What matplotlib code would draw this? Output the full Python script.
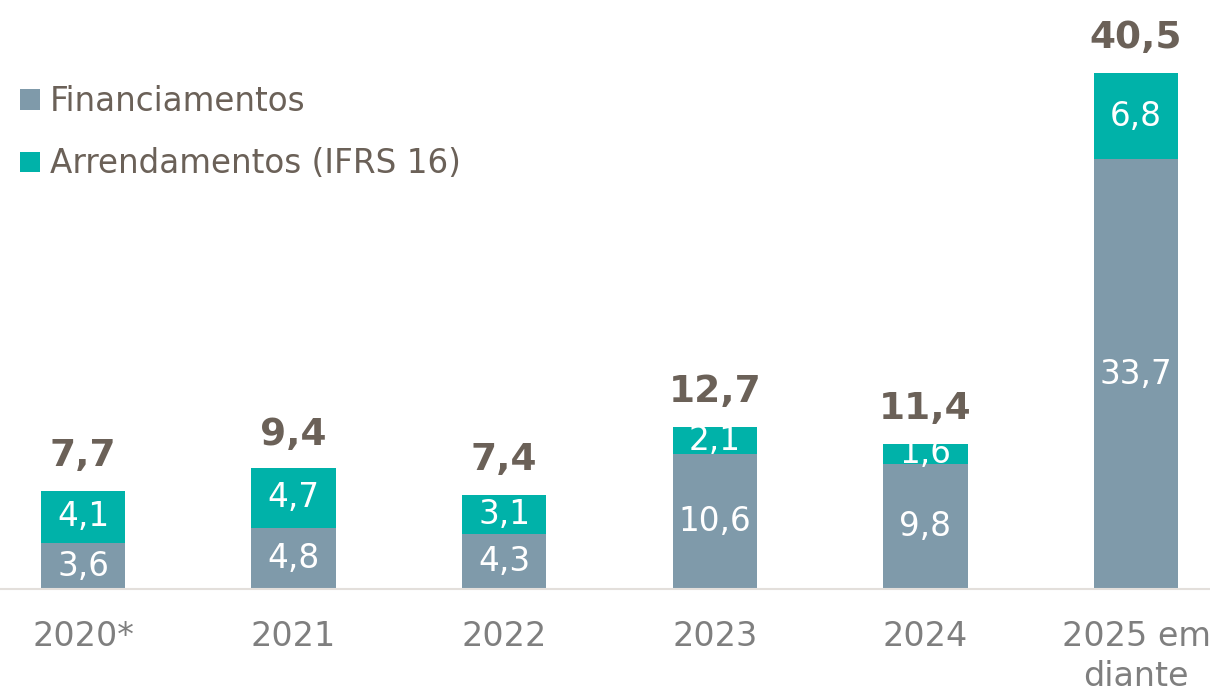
import matplotlib.pyplot as plt
import numpy as np

years = ['2020*', '2021', '2022', '2023', '2024', '2025 em\ndiante']
financiamentos = [3.6, 4.8, 4.3, 10.6, 9.8, 33.7]
arrendamentos = [4.1, 4.7, 3.1, 2.1, 1.6, 6.8]
totais = [7.7, 9.4, 7.4, 12.7, 11.4, 40.5]

c_fin = '#7F9AAA'
c_arr = '#00B2A9'
c_txt = '#6B6158'
c_tick = '#7F7F7F'


def fmt(v):
    return f'{v:.1f}'.replace('.', ',')


plt.rcParams['font.family'] = ['DejaVu Sans']

fig = plt.figure(figsize=(12.1, 6.92), dpi=100)
ax = fig.add_axes([0, 0.1488, 1, 0.8512])

x = np.arange(len(years))
w = 0.4
ax.bar(x, financiamentos, w, color=c_fin, label='Financiamentos')
ax.bar(x, arrendamentos, w, bottom=financiamentos, color=c_arr,
       label='Arrendamentos (IFRS 16)')

for i in range(len(years)):
    ax.text(x[i], financiamentos[i] / 2, fmt(financiamentos[i]), ha='center', va='center',
            color='white', fontsize=23.5)
    ax.text(x[i], financiamentos[i] + arrendamentos[i] / 2, fmt(arrendamentos[i]),
            ha='center', va='center', color='white', fontsize=23.5)
    ax.annotate(fmt(totais[i]), (x[i], totais[i]), xytext=(0, 12), textcoords='offset points',
                ha='center', va='bottom', color=c_txt, fontsize=27, fontweight='bold')

ax.set_xlim(-0.394, 5.351)
ax.set_ylim(0, 46.2)
ax.set_xticks(x)
ax.set_xticklabels(years, fontsize=24, color=c_tick, linespacing=1.3)
ax.tick_params(axis='x', length=0, pad=22)
ax.set_yticks([])
for s in ['top', 'right', 'left']:
    ax.spines[s].set_visible(False)
ax.spines['bottom'].set_color('#E3DFDB')
ax.spines['bottom'].set_linewidth(1.5)

ax.legend(loc='upper left', bbox_to_anchor=(0.0165, 0.877), bbox_transform=fig.transFigure,
          frameon=False, fontsize=23.5, labelcolor=c_txt, handlelength=0.61, handleheight=0.61,
          handletextpad=0.3, labelspacing=0.9, borderaxespad=0, borderpad=0)

fig.savefig('out.png', dpi=100)
